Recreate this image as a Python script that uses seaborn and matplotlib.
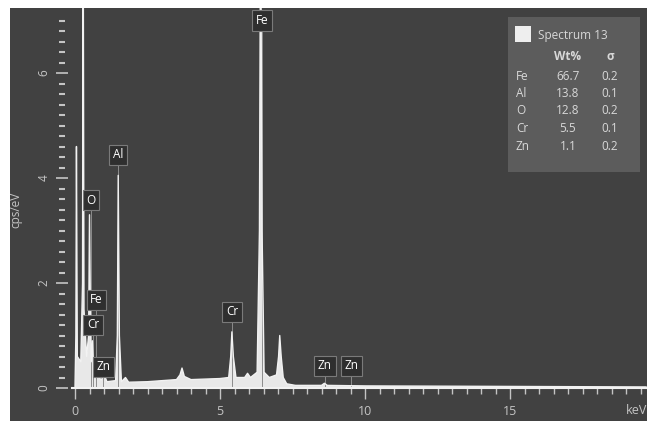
import numpy as np
import pandas as pd
import seaborn as sns
import matplotlib.pyplot as plt
from matplotlib.patches import Rectangle

# EDS spectrum (keV, cps/eV)
energy_kev = [0.00, 0.03, 0.05, 0.08, 0.20, 0.26, 0.28, 0.31, 0.40, 0.47, 0.50, 0.54,
              0.56, 0.60, 0.64, 0.71, 0.78, 0.90, 1.01, 1.10, 1.40, 1.46, 1.49, 1.53,
              1.60, 1.74, 1.85, 2.50, 3.00, 3.50, 3.62, 3.69, 3.77, 4.00, 4.50, 5.00,
              5.30, 5.37, 5.41, 5.46, 5.55, 5.85, 5.95, 6.05, 6.28, 6.36, 6.40, 6.45,
              6.52, 6.70, 6.95, 7.02, 7.06, 7.11, 7.18, 7.30, 7.60, 8.50, 8.60, 8.70,
              10.0, 15.0, 19.7]
counts = [0.00, 1.00, 4.60, 0.60, 0.50, 2.00, 9.50, 1.50, 0.60, 1.00, 3.30, 1.00,
          0.50, 0.90, 0.40, 0.55, 0.25, 0.15, 0.25, 0.12, 0.14, 1.00, 4.05, 1.00,
          0.12, 0.20, 0.11, 0.12, 0.14, 0.16, 0.25, 0.38, 0.22, 0.16, 0.17, 0.18,
          0.20, 0.60, 1.07, 0.60, 0.20, 0.20, 0.28, 0.20, 0.30, 3.00, 9.50, 3.00,
          0.30, 0.20, 0.25, 0.60, 1.00, 0.60, 0.20, 0.08, 0.05, 0.05, 0.09, 0.05,
          0.04, 0.03, 0.02]

# peak labels
label_names = ['Fe', 'Al', 'O', 'Fe', 'Cr', 'Zn', 'Cr', 'Zn', 'Zn']
label_kev = [6.45, 1.48, 0.55, 0.74, 0.62, 0.98, 5.41, 8.62, 9.52]
label_y = [7.0, 4.44, 3.58, 1.68, 1.20, 0.40, 1.45, 0.42, 0.42]

# quantification table
quant_elements = ['Fe', 'Al', 'O', 'Cr', 'Zn']
quant_wt = ['66.7', '13.8', '12.8', '5.5', '1.1']
quant_sigma = ['0.2', '0.1', '0.2', '0.1', '0.2']

bg_color = '#414141'
fg_color = '#c4c4c4'

sns.set_style('dark', rc={'axes.facecolor': 'none'})
plt.rcParams['font.family'] = ['Open Sans', 'DejaVu Sans']

W, H = 647, 421
fig = plt.figure(figsize=(W / 100, H / 100), dpi=100, facecolor='white')


def px(x, y):
    return x / W, 1 - y / H


# dark panel
bg = fig.add_axes([10 / W, 0, (W - 10) / W, (H - 8) / H])
bg.set_facecolor(bg_color)
bg.set_xticks([])
bg.set_yticks([])
for s in bg.spines.values():
    s.set_visible(False)

ax = fig.add_axes([62 / W, (H - 388) / H, (W - 62) / W, (388 - 8) / H])
ax.set_facecolor('none')
ax.patch.set_alpha(0)

df = pd.DataFrame({'energy': energy_kev, 'cps': counts})
ax.fill_between(df['energy'], 0, df['cps'], color='#e8e8e8', lw=0)
sns.lineplot(data=df, x='energy', y='cps', ax=ax, color='#f2f2f2', lw=1.0,
             estimator=None, sort=False)

for name, xk, yk in zip(label_names, label_kev, label_y):
    ax.vlines(xk, 0, yk - 0.15, color='#8c8c8c', lw=0.7, zorder=1)
    ax.text(xk, yk, name, ha='center', va='center', fontsize=8.5, color='white',
            bbox=dict(boxstyle='square,pad=0.3', fc='#2f2f2f', ec='#7a7a7a', lw=0.8),
            zorder=5)

ax.set_xlim(-13 / 29, (W - 75) / 29)
ax.set_ylim(0, 380 / 52.5)

ax.set_xticks([0, 5, 10, 15])
ax.set_xticks(np.arange(0, 20, 0.5), minor=True)
ax.set_yticks([0, 2, 4, 6])
ax.set_yticks(np.arange(0, 7.2, 0.2), minor=True)
ax.tick_params(which='both', bottom=True, left=True)
ax.tick_params(axis='x', which='major', direction='out', length=8, width=1,
               color=fg_color, labelcolor=fg_color, labelsize=9, pad=4)
ax.tick_params(axis='x', which='minor', direction='out', length=4, width=1, color=fg_color)
ax.tick_params(axis='y', which='major', direction='inout', length=9, width=1.2,
               color=fg_color, labelcolor=fg_color, labelsize=8.5, pad=4)
ax.tick_params(axis='y', which='minor', direction='inout', length=4, width=1.5, color=fg_color)
for lab in ax.get_yticklabels():
    lab.set_rotation(90)
    lab.set_va('center')

ax.set_xlabel('')
ax.set_ylabel('cps/eV', color=fg_color, fontsize=8.5)
ax.yaxis.set_label_coords(-0.068, 0.47)
ax.text(19.72, -0.42, 'keV', color=fg_color, fontsize=9, ha='right', va='center', clip_on=False)

for side in ['top', 'right', 'left']:
    ax.spines[side].set_visible(False)
ax.spines['bottom'].set_color('#f2f2f2')
ax.spines['bottom'].set_linewidth(1.5)
ax.spines['bottom'].set_bounds(-0.1, 20)

# quantification box
x0, y0 = px(508, 172)
x1, y1 = px(640, 17)
fig.patches.append(Rectangle((x0, y0), x1 - x0, y1 - y0, transform=fig.transFigure,
                             fc='#5c5c5c', ec='none', zorder=10))
sx, sy = px(515, 42)
fig.patches.append(Rectangle((sx, sy), 16 / W, 16 / H, transform=fig.transFigure,
                             fc='#eeeeee', ec='none', zorder=11))
tx = dict(color='#d8d8d8', fontsize=8.5, zorder=12, va='center')
fig.text(*px(538, 35), 'Spectrum 13', ha='left', **tx)
fig.text(*px(568, 57), 'Wt%', ha='center', fontweight='bold', **tx)
fig.text(*px(610, 57), 'σ', ha='center', fontweight='bold', **tx)
for i, (el, wt, sg) in enumerate(zip(quant_elements, quant_wt, quant_sigma)):
    ry = 76 + i * 17.5
    fig.text(*px(516, ry), el, ha='left', **tx)
    fig.text(*px(568, ry), wt, ha='center', **tx)
    fig.text(*px(610, ry), sg, ha='center', **tx)

fig.savefig('out.png', dpi=100, facecolor='white')
